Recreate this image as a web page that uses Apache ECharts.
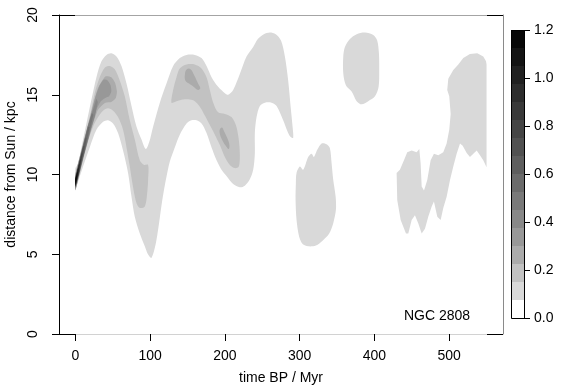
<!DOCTYPE html>
<html>
<head>
<meta charset="utf-8">
<script src="https://cdn.jsdelivr.net/npm/echarts@6/dist/echarts.min.js"></script>
<style>
html,body{margin:0;padding:0;background:#fff;}
#chart{width:561px;height:389px;}
</style>
</head>
<body>
<div id="chart"></div>
<script>
// ---------- data ----------
const timeTicks = [0, 100, 200, 300, 400, 500];          // Myr
const distTicks = [0, 5, 10, 15, 20];                    // kpc
const densityBreaks = [0, 0.075, 0.15, 0.225, 0.3, 0.375, 0.45, 0.525, 0.6,
                       0.675, 0.75, 0.825, 0.9, 0.975, 1.05, 1.125, 1.2];
const densityTicks = [0, 0.2, 0.4, 0.6, 0.8, 1.0, 1.2];
const bandGrays = ['#ffffff', '#d9d9d9', '#c2c2c2', '#ababab', '#989898', '#888888',
                   '#797979', '#6b6b6b', '#5e5e5e', '#515151', '#454545', '#393939',
                   '#2d2d2d', '#212121', '#141414', '#070707'];

// contour regions: [time BP / Myr, distance / kpc]
const level1Main = [[0,10.4],[3.5,10.65],[8,11.7],[14.7,13.2],[21.4,14.7],[28.1,16.1],[34.8,17.1],[41.5,17.5],[48.2,17.6],[54.9,17.4],[61.6,16.8],[68.3,15.7],[75,14.3],[81.7,13.0],[88.4,12.2],[94.1,11.6],[98.5,12.0],[103.9,13.0],[112.9,14.5],[121.8,15.7],[130.7,16.8],[139.6,17.3],[148.6,17.5],[159.7,17.5],[168.7,17.3],[175.4,16.8],[182.1,16.1],[190.9,15.5],[199.9,15.1],[204.3,15.0],[211,15.3],[219.9,16.3],[228.9,17.4],[237.8,18.0],[244,18.5],[252,18.8],[260,18.9],[268,18.8],[275,18.4],[280.2,17.4],[284.6,15.9],[287.8,14.3],[290.5,13.0],[291.3,12.3],[288,12.35],[284.6,12.6],[277.9,13.4],[269.1,14.3],[262.4,14.5],[253.4,14.5],[246.7,14.3],[242.3,13.6],[240,12.6],[240,11.3],[237.8,10.3],[233.3,9.7],[226.6,9.3],[219.9,9.2],[211,9.4],[202.1,9.9],[195.4,10.3],[188.8,10.9],[182.1,11.7],[175.4,12.6],[168.7,13.2],[162,13.4],[155.3,13.4],[148.6,13.2],[139.6,12.5],[132.9,11.7],[126.2,10.8],[120.9,9.65],[116.2,8.4],[112.9,7.3],[109.5,6.2],[106.2,5.4],[101.6,4.77],[97,5.0],[92.8,5.5],[86.1,6.3],[79.4,7.35],[75,8.6],[70.4,10.1],[63.7,11.5],[57,12.6],[50.3,13.2],[43.6,13.4],[37,13.3],[28.1,12.8],[19.1,11.7],[10.2,10.5],[3.5,9.55],[0,9.1]];
const level1BlobLow = [[295.8,10.1],[300.3,10.5],[304.7,10.3],[311.4,11.1],[315.9,11.3],[319,11.1],[323.5,11.55],[329.3,11.95],[336,11.9],[340.4,11.65],[342.7,10.7],[344.9,9.65],[348.1,8.6],[348.5,7.8],[344.9,6.95],[339.5,6.3],[330.6,5.85],[321.7,5.55],[311.4,5.5],[303.9,5.65],[299.3,6.1],[295.8,7.15],[294.5,8.4],[294.9,9.45]];
const level1BlobHigh = [[358.3,17.4],[360.5,18.0],[367.2,18.5],[376.2,18.8],[387.3,18.9],[398.4,18.75],[403.7,18.4],[406,17.6],[406.4,16.55],[405.6,15.5],[400.7,14.9],[391.7,14.6],[382.9,14.4],[376.2,14.6],[369.5,15.2],[361.8,15.6],[358.3,16.35]];
const level1Right = [[442.2,6.3],[435.1,7.15],[430.5,8.4],[429.7,10.1],[434.1,10.3],[439.5,10.9],[443.9,11.4],[449.8,11.5],[456.5,11.4],[460,11.6],[461.8,10.7],[463.2,9.25],[466.3,9.0],[470.7,9.65],[475.2,10.9],[479.6,11.3],[485.4,11.2],[492.1,11.4],[496.6,11.95],[500.1,12.8],[502,13.8],[500.1,14.9],[497.4,15.3],[498.8,16.0],[505.5,16.55],[512.2,16.9],[518.9,17.3],[527.8,17.55],[537.6,17.6],[545.6,17.4],[549.3,17.1],[550,16.9],[550,10.45],[545.6,10.9],[541.2,11.2],[536.8,11.5],[532.3,11.3],[527.8,11.1],[523.4,11.35],[518.1,11.8],[514.5,11.95],[510,11.3],[505.5,10.5],[501.1,9.65],[496.6,8.6],[492.1,7.9],[488.6,7.15],[484.1,7.35],[479.6,8.3],[476.6,8.0],[472,7.35],[467.6,6.6],[463.2,6.3],[458.6,6.95],[454.2,7.45],[449.8,7.15],[445.3,6.3]];
const level2WaveA = [[0,9.0],[0,10.05],[3.5,10.5],[12.4,12.3],[19.1,13.6],[25.8,15.1],[32.5,16.1],[39.2,16.7],[45.9,16.8],[52.6,16.6],[59.3,15.9],[66,14.9],[72.7,13.4],[79.4,12.2],[86.1,10.9],[92,10.6],[97.2,10.6],[97.2,9.65],[95.9,8.8],[92.8,8.0],[86.1,7.9],[81.7,8.2],[77.1,9.2],[72.7,10.5],[68.3,11.7],[63.7,12.8],[57,13.6],[50.3,14.0],[43.6,14.15],[37,14.0],[30.3,13.6],[23.6,13.0],[16.9,12.1],[10.2,10.9],[3.5,9.7]];
const level2WaveB = [[128.5,14.5],[130.7,15.3],[135.2,16.1],[139.6,16.65],[148.6,16.9],[159.7,16.9],[168.7,16.65],[175.4,16.1],[179.8,15.3],[184.3,14.5],[190.9,13.9],[199.9,13.8],[208.8,13.6],[214.6,13.1],[218.2,12.3],[219.9,11.3],[218.6,10.5],[213.3,10.4],[206.6,10.6],[199.9,11.1],[193.2,11.85],[186.5,12.5],[179.8,13.1],[173.1,13.7],[166.4,14.25],[159.7,14.6],[153,14.7],[144,14.7],[135.2,14.6]];
const level3SpotA = [[146.5,16.3],[149,16.6],[154,16.6],[159,16.2],[164,15.7],[167,15.4],[164,15.3],[158,15.5],[152,15.7],[147,15.9]];
const level3SpotB = [[193,12.8],[196,12.95],[199,12.7],[203,12.3],[206,11.85],[205,11.6],[201,11.8],[196,12.2],[193.5,12.5]];
const level3Streak = [[0,9.02],[10,10.9],[20,12.62],[30,14.05],[40,14.5],[48,14.55],[54,14.8],[55.5,15.2],[53,15.75],[48,16.1],[40,16.15],[30,15.4],[20,13.7],[10,11.9],[0,9.98]];
const level4Streak = [[0,9.06],[10,10.96],[20,12.7],[28,14.05],[34,14.6],[40,14.8],[45,14.9],[48,15.2],[47,15.6],[43,15.9],[38,15.95],[32,15.55],[26,14.75],[20,13.6],[10,11.84],[0,9.94]];
const level5Streak = [[0,9.1],[10,11.0],[20,12.75],[26,13.65],[30,14.55],[28,14.75],[20,13.55],[10,11.8],[0,9.9]];
const level6Streak = [[0,9.14],[10,11.04],[18,12.45],[24,13.75],[22,13.85],[16,12.95],[10,11.76],[0,9.86]];
const level7Streak = [[0,9.17],[10,11.07],[15,11.97],[19,12.98],[17,13.0],[10,11.73],[0,9.83]];
const level8Streak = [[0,9.2],[8,10.72],[12,11.46],[15,12.3],[13.5,12.32],[8,11.32],[0,9.8]];
const level9Streak = [[0,9.22],[6,10.36],[12,11.76],[10.5,11.78],[6,10.92],[0,9.78]];
const level10Streak = [[0,9.24],[5,10.19],[9.5,11.3],[8.2,11.32],[5,10.71],[0,9.76]];
const level11Streak = [[0,9.26],[4,10.02],[7.5,10.92],[6.3,10.95],[4,10.5],[0,9.74]];
const level12Streak = [[0,9.28],[3,9.85],[6,10.64],[5,10.67],[3,10.29],[0,9.72]];
const level13Streak = [[0,9.3],[4.5,10.36],[3.6,10.4],[0,9.7]];
const level14Streak = [[0,9.32],[3.3,10.13],[2.5,10.15],[0,9.68]];
const level15Streak = [[0,9.35],[2.2,9.92],[1.5,9.94],[0,9.65]];

const contourPolys = [
  {level: 1, pts: level1Main, smooth: 0.3},
  {level: 1, pts: level1BlobLow, smooth: 0.3},
  {level: 1, pts: level1BlobHigh, smooth: 0.3},
  {level: 1, pts: level1Right, smooth: 0},
  {level: 2, pts: level2WaveA, smooth: 0.3},
  {level: 2, pts: level2WaveB, smooth: 0.3},
  {level: 3, pts: level3SpotA, smooth: 0.4},
  {level: 3, pts: level3SpotB, smooth: 0.4},
  {level: 3, pts: level3Streak, smooth: 0.2},
  {level: 4, pts: level4Streak, smooth: 0.2},
  {level: 5, pts: level5Streak, smooth: 0},
  {level: 6, pts: level6Streak, smooth: 0},
  {level: 7, pts: level7Streak, smooth: 0},
  {level: 8, pts: level8Streak, smooth: 0},
  {level: 9, pts: level9Streak, smooth: 0},
  {level: 10, pts: level10Streak, smooth: 0},
  {level: 11, pts: level11Streak, smooth: 0},
  {level: 12, pts: level12Streak, smooth: 0},
  {level: 13, pts: level13Streak, smooth: 0},
  {level: 14, pts: level14Streak, smooth: 0},
  {level: 15, pts: level15Streak, smooth: 0}
];

// ---------- chart ----------
const FONT = '"Liberation Sans", Arial, Helvetica, sans-serif';
const chart = echarts.init(document.getElementById('chart'), null, {renderer: 'canvas'});

function crisp(v) { return Math.round(v) + 0.5; }

const option = {
  animation: false,
  backgroundColor: '#ffffff',
  textStyle: {fontFamily: FONT, color: '#000'},
  grid: [
    {left: 59, top: 15, width: 444, height: 319, containLabel: false, outerBoundsMode: 'none'},
    {left: 511, top: 30, width: 13, height: 288, containLabel: false, outerBoundsMode: 'none'}
  ],
  xAxis: [
    {
      gridIndex: 0, type: 'value', min: -22, max: 572, position: 'bottom',
      axisLine: {show: true, onZero: false, lineStyle: {color: '#d2d2d2', width: 1}},
      axisTick: {show: true, inside: false, length: 7, customValues: timeTicks,
                 lineStyle: {color: '#000', width: 1}},
      axisLabel: {show: true, customValues: timeTicks, margin: 15,
                  fontSize: 14, fontFamily: FONT, color: '#000'},
      splitLine: {show: false},
      name: 'time BP / Myr', nameLocation: 'middle', nameGap: 37,
      nameTextStyle: {fontSize: 14, fontFamily: FONT, color: '#000'}
    },
    {
      gridIndex: 0, type: 'value', min: -22, max: 572, position: 'top',
      axisLine: {show: true, onZero: false, lineStyle: {color: '#a4a4a4', width: 1}},
      axisTick: {show: false}, axisLabel: {show: false}, splitLine: {show: false}
    },
    {
      gridIndex: 1, type: 'value', min: 0, max: 1, show: false
    }
  ],
  yAxis: [
    {
      gridIndex: 0, type: 'value', min: 0, max: 20, interval: 5, position: 'left',
      axisLine: {show: true, onZero: false, lineStyle: {color: '#000', width: 1}},
      axisTick: {show: true, inside: false, length: 7, lineStyle: {color: '#000', width: 1}},
      axisLabel: {show: true, rotate: 90, margin: 19, fontSize: 14, fontFamily: FONT, color: '#000'},
      splitLine: {show: false},
      name: 'distance from Sun / kpc', nameLocation: 'middle', nameGap: 39, nameRotate: 90,
      nameTextStyle: {fontSize: 14, fontFamily: FONT, color: '#000'}
    },
    {
      gridIndex: 0, type: 'value', min: 0, max: 20, position: 'right',
      axisLine: {show: true, onZero: false, lineStyle: {color: '#8a8a8a', width: 1}},
      axisTick: {show: false}, axisLabel: {show: false}, splitLine: {show: false}
    },
    {
      gridIndex: 1, type: 'value', min: 0, max: 1.2, interval: 0.2, position: 'right',
      axisLine: {show: false, onZero: false},
      axisTick: {show: true, inside: false, length: 6, lineStyle: {color: '#000', width: 1}},
      axisLabel: {show: true, margin: 10, fontSize: 14, fontFamily: FONT, color: '#000',
                  formatter: v => v.toFixed(1)},
      splitLine: {show: false}
    }
  ],
  series: [
    {
      type: 'custom', name: 'density', xAxisIndex: 0, yAxisIndex: 0,
      coordinateSystem: 'cartesian2d', clip: true, silent: true,
      data: contourPolys.map((p, i) => [p.pts[0][0], p.pts[0][1], i]),
      renderItem: function (params, api) {
        const p = contourPolys[params.dataIndex];
        const points = p.pts.map(pt => api.coord(pt));
        return {
          type: 'polygon',
          shape: {points: points, smooth: p.smooth},
          style: {fill: bandGrays[p.level], stroke: null}
        };
      }
    },
    {
      type: 'custom', name: 'frame corners', xAxisIndex: 0, yAxisIndex: 0,
      coordinateSystem: 'cartesian2d', clip: false, silent: true, z: 10,
      data: [[-22, 20, 0, 20], [550, 20, 572, 20], [-22, 0, 0, 0], [550, 0, 572, 0]],
      renderItem: function (params, api) {
        const a = api.coord([api.value(0), api.value(1)]);
        const b = api.coord([api.value(2), api.value(3)]);
        return {
          type: 'line',
          shape: {x1: Math.round(a[0]), y1: crisp(a[1]), x2: Math.round(b[0]), y2: crisp(b[1])},
          style: {stroke: '#000', lineWidth: 1}
        };
      }
    },
    {
      type: 'custom', name: 'colour key', xAxisIndex: 2, yAxisIndex: 2,
      coordinateSystem: 'cartesian2d', clip: false, silent: true,
      data: densityBreaks.slice(0, -1).map((lo, i) => [lo, densityBreaks[i + 1], i]),
      renderItem: function (params, api) {
        const lo = api.value(0), hi = api.value(1), i = api.value(2);
        const p0 = api.coord([0, lo]);
        const p1 = api.coord([1, hi]);
        return {
          type: 'rect',
          shape: {x: p0[0], y: p1[1], width: p1[0] - p0[0], height: p0[1] - p1[1]},
          style: {fill: bandGrays[i], stroke: null}
        };
      }
    },
    {
      type: 'custom', name: 'colour key box', xAxisIndex: 2, yAxisIndex: 2,
      coordinateSystem: 'cartesian2d', clip: false, silent: true, z: 10,
      data: [[0, 0, 1, 1.2]],
      renderItem: function (params, api) {
        const p0 = api.coord([api.value(0), api.value(1)]);
        const p1 = api.coord([api.value(2), api.value(3)]);
        return {
          type: 'rect',
          shape: {x: crisp(p0[0]), y: crisp(p1[1]), width: Math.round(p1[0] - p0[0]), height: Math.round(p0[1] - p1[1])},
          style: {fill: null, stroke: '#000', lineWidth: 1}
        };
      }
    }
  ],
  graphic: [
    {
      type: 'text', left: 404, top: 309, silent: true,
      style: {text: 'NGC 2808', fontSize: 14, fontFamily: FONT, fill: '#000'}
    }
  ]
};

chart.setOption(option);
</script>
</body>
</html>
